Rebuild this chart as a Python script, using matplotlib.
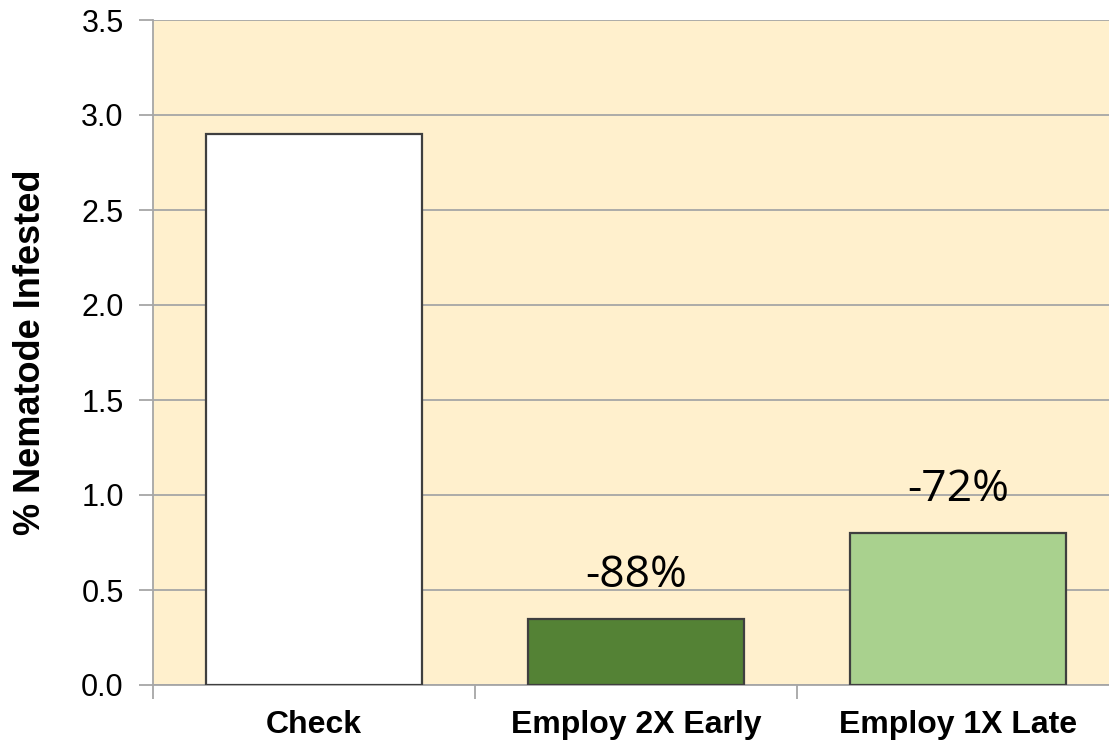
import matplotlib.pyplot as plt
import numpy as np

categories = ["Check", "Employ 2X Early", "Employ 1X Late"]
values = [2.9, 0.35, 0.8]
bar_labels = ["", "-88%", "-72%"]
bar_colors = ["#FFFFFF", "#548235", "#A9D18E"]
y_ticks = [0.0, 0.5, 1.0, 1.5, 2.0, 2.5, 3.0, 3.5]

fig = plt.figure(figsize=(11.09, 7.40), dpi=100)
ax = fig.add_axes([153 / 1109, 55 / 740, 966 / 1109, 665 / 740])
ax.set_facecolor("#FFF0CD")

x = np.arange(len(categories))
ax.set_axisbelow(True)
ax.grid(axis="y", color="#A6A6A6", linewidth=1.3)
ax.bar(x, values, width=0.67, color=bar_colors, edgecolor="#3F3F3F", linewidth=1.6, zorder=3)

for xi, v, lab in zip(x, values, bar_labels):
    if lab:
        ax.text(xi, v + 0.11, lab, ha="center", va="bottom", fontsize=32,
                family="Open Sans", color="black")

ax.set_xlim(-0.5, 2.5)
ax.set_ylim(0, 3.5)
ax.set_yticks(y_ticks)
ax.set_yticklabels([f"{t:.1f}" for t in y_ticks], fontsize=22, family="Liberation Sans")
ax.set_xticks(x)
ax.set_xticklabels(categories, fontsize=23, fontweight="bold", family="Liberation Sans")
ax.set_xticks([-0.5, 0.5, 1.5], minor=True)
ax.tick_params(axis="x", which="major", length=0, pad=18)
ax.tick_params(axis="x", which="minor", length=10, color="#A6A6A6", width=1.3)
ax.tick_params(axis="y", length=10, color="#A6A6A6", width=1.3, pad=11)

for side in ["top", "right"]:
    ax.spines[side].set_visible(False)
for side in ["left", "bottom"]:
    ax.spines[side].set_color("#A6A6A6")
    ax.spines[side].set_linewidth(1.3)

ax.set_ylabel("% Nematode Infested", fontsize=26, fontweight="bold",
              family="Liberation Sans", labelpad=24)

fig.savefig("out.png", dpi=100)
